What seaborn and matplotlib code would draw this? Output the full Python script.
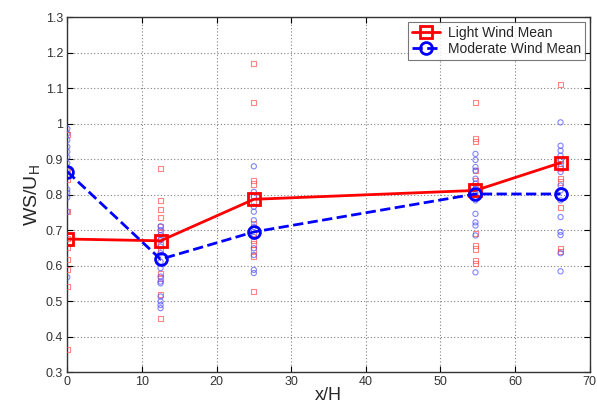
import numpy as np
import pandas as pd
import matplotlib
matplotlib.use("Agg")
import matplotlib.pyplot as plt
import seaborn as sns

# scatter samples (WS/U_H) at each x/H station
light_x0 = [0.969, 0.869, 0.843, 0.752, 0.676, 0.651, 0.618, 0.588, 0.542, 0.364]
light_x12 = [0.874, 0.783, 0.758, 0.735, 0.710, 0.693, 0.677, 0.658, 0.644, 0.578, 0.565, 0.518, 0.452]
light_x25 = [1.169, 1.060, 0.841, 0.830, 0.794, 0.780, 0.719, 0.691, 0.672, 0.661, 0.644, 0.625, 0.527]
light_x55 = [1.059, 0.958, 0.950, 0.868, 0.840, 0.821, 0.690, 0.657, 0.647, 0.614, 0.607]
light_x66 = [1.111, 0.896, 0.887, 0.873, 0.845, 0.836, 0.765, 0.649, 0.639]

mod_x0 = [0.986, 0.972, 0.954, 0.935, 0.921, 0.906, 0.889, 0.870, 0.815, 0.806, 0.792, 0.752, 0.567]
mod_x12 = [0.711, 0.700, 0.686, 0.672, 0.654, 0.635, 0.611, 0.593, 0.569, 0.555, 0.550, 0.513, 0.499, 0.489, 0.480]
mod_x25 = [0.880, 0.808, 0.794, 0.766, 0.752, 0.728, 0.709, 0.681, 0.649, 0.630, 0.588, 0.579]
mod_x55 = [0.915, 0.898, 0.878, 0.868, 0.845, 0.831, 0.817, 0.803, 0.784, 0.746, 0.722, 0.713, 0.685, 0.581]
mod_x66 = [1.004, 0.938, 0.924, 0.910, 0.896, 0.878, 0.864, 0.826, 0.812, 0.784, 0.737, 0.695, 0.686, 0.635, 0.584]

positions = [0, 12.5, 25, 54.7, 66.1]
light_mean = [0.675, 0.670, 0.787, 0.812, 0.890]
mod_mean = [0.865, 0.618, 0.695, 0.802, 0.802]


def long_frame(cols):
    rows = []
    for x, vals in zip(positions, cols):
        for v in vals:
            rows.append((x, v))
    return pd.DataFrame(rows, columns=["x", "ws"])


light_df = long_frame([light_x0, light_x12, light_x25, light_x55, light_x66])
mod_df = long_frame([mod_x0, mod_x12, mod_x25, mod_x55, mod_x66])
mean_df = pd.DataFrame({"x": positions, "light": light_mean, "mod": mod_mean})

sns.set_style("white")
plt.rcParams["font.family"] = ["Liberation Sans", "DejaVu Sans"]

fig = plt.figure(figsize=(5.97, 4.03), dpi=100)
ax = fig.add_axes([0.1127, 0.0769, 0.875, 0.880])

sns.scatterplot(data=light_df, x="x", y="ws", ax=ax, marker="s", s=14,
                facecolors="none", edgecolor="#ff5050", linewidth=0.8, alpha=0.7, zorder=3)
sns.scatterplot(data=mod_df, x="x", y="ws", ax=ax, marker="o", s=14,
                facecolors="none", edgecolor="#5050ff", linewidth=0.8, alpha=0.7, zorder=3)

sns.lineplot(data=mean_df, x="x", y="light", ax=ax, color="#ff0000", lw=2,
             marker="s", markersize=8.5, markerfacecolor="none", markeredgewidth=2,
             markeredgecolor="#ff0000", label="Light Wind Mean", zorder=4)
sns.lineplot(data=mean_df, x="x", y="mod", ax=ax, color="#0000ff", lw=2, ls="--",
             marker="o", markersize=8.5, markerfacecolor="none", markeredgewidth=2,
             markeredgecolor="#0000ff", label="Moderate Wind Mean", zorder=4)

ax.set_xlim(0, 70)
ax.set_ylim(0.3, 1.3)
yt = np.round(np.arange(0.3, 1.31, 0.1), 1)
ax.set_xticks(np.arange(0, 71, 10))
ax.set_yticks(yt)
ax.set_yticklabels([f"{v:g}" for v in yt])
ax.grid(True, ls=(0, (1, 2)), color="#808080", lw=0.8)
ax.tick_params(direction="in", length=4, labelsize=9, top=True, right=True,
               bottom=True, left=True, color="black", labelcolor="#333333", pad=3)
for sp in ax.spines.values():
    sp.set_color("#333333")
    sp.set_linewidth(1.0)

ax.set_xlabel("x/H", fontsize=13, labelpad=-1)
ax.set_ylabel("WS/U$_\\mathregular{H}$", fontsize=14, labelpad=2)

leg = ax.legend(loc="upper right", fontsize=10, frameon=True, fancybox=False,
                edgecolor="#555555", borderaxespad=0.3, handlelength=2.0,
                borderpad=0.3, labelspacing=0.15, handletextpad=0.6)
leg.get_frame().set_linewidth(0.8)

fig.savefig("out.png", dpi=100)
